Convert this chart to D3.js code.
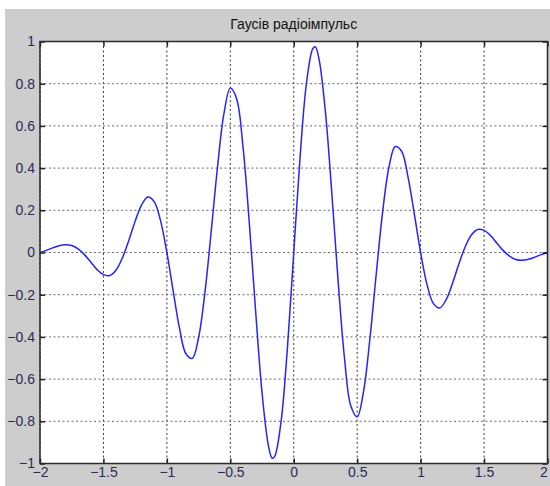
<!DOCTYPE html>
<html>
<head>
<meta charset="utf-8">
<script src="https://cdn.jsdelivr.net/npm/d3@7/dist/d3.min.js"></script>
<style>
	body{margin:0;background:#fff;}
	text{font-family:'Liberation Sans',Arial,sans-serif;}
</style>
</head>
<body>
<svg id="chart" width="550" height="486"></svg>
<script>
var title = 'Гаусів радіоімпульс';
var xTicks = [-2,-1.5,-1,-0.5,0,0.5,1,1.5,2];
var yTicks = [-1,-0.8,-0.6,-0.4,-0.2,0,0.2,0.4,0.6,0.8,1];

// samples, step 0.05 (plus the two main peaks)
var tValues = [
	-2,-1.95,-1.9,-1.85,-1.8,-1.75,-1.7,-1.65,-1.6,-1.55,
	-1.5,-1.45,-1.4,-1.35,-1.3,-1.25,-1.2,-1.15,-1.1,-1.05,
	-1,-0.95,-0.9,-0.85,-0.8,-0.75,-0.7,-0.65,-0.6,-0.55,
	-0.5,-0.45,-0.4,-0.35,-0.3,-0.25,-0.2,-0.17,-0.15,-0.1,-0.05,
	0,0.05,0.1,0.15,0.17,0.2,0.25,0.3,0.35,0.4,0.45,
	0.5,0.55,0.6,0.65,0.7,0.75,0.8,0.85,0.9,0.95,
	1,1.05,1.1,1.15,1.2,1.25,1.3,1.35,1.4,1.45,
	1.5,1.55,1.6,1.65,1.7,1.75,1.8,1.85,1.9,1.95,
	2
];
var yValues = [
	0,0.010,0.022,0.032,0.037,0.033,0.017,-0.010,-0.045,-0.081,
	-0.105,-0.109,-0.083,-0.025,0.057,0.148,0.225,0.263,0.241,0.151,
	0,-0.184,-0.360,-0.480,-0.502,-0.403,-0.189,0.103,0.410,0.659,
	0.779,0.728,0.501,0.138,-0.282,-0.664,-0.914,-0.975,-0.966,-0.801,-0.453,
	0,0.453,0.801,0.966,0.975,0.914,0.664,0.282,-0.138,-0.501,-0.728,
	-0.779,-0.659,-0.410,-0.103,0.189,0.403,0.502,0.480,0.360,0.184,
	0,-0.151,-0.241,-0.263,-0.225,-0.148,-0.057,0.025,0.083,0.109,
	0.105,0.081,0.045,0.010,-0.017,-0.033,-0.037,-0.032,-0.022,-0.010,
	0
];

var svg = d3.select('#chart');
var box = {left:40, right:547.5, top:41.5, bottom:463.5};

var x = d3.scaleLinear().domain([-2,2]).range([box.left, box.right]);
var y = d3.scaleLinear().domain([-1,1]).range([box.bottom, box.top]);

//figure background
svg.append('rect')
	.attr('x',5).attr('y',9)
	.attr('width',545).attr('height',477)
	.attr('fill','#cdcdcd');

//axes background
svg.append('rect')
	.attr('x',box.left).attr('y',box.top)
	.attr('width',box.right-box.left).attr('height',box.bottom-box.top)
	.attr('fill','#fff');

//grid
var grid = svg.append('g').attr('stroke','#3a3a3a').attr('stroke-width',1).attr('stroke-dasharray','2,2.5');
grid.selectAll('.gx').data(xTicks).enter().append('line')
	.attr('x1',function(d){return x(d);}).attr('x2',function(d){return x(d);})
	.attr('y1',box.top).attr('y2',box.bottom);
grid.selectAll('.gy').data(yTicks).enter().append('line')
	.attr('y1',function(d){return y(d);}).attr('y2',function(d){return y(d);})
	.attr('x1',box.left).attr('x2',box.right)
	.attr('stroke','#6a6a6a');

//curve
var line = d3.line()
	.x(function(d,i){return x(tValues[i]);})
	.y(function(d){return y(d);})
	.curve(d3.curveCatmullRom.alpha(0.5));
svg.append('path')
	.datum(yValues)
	.attr('d',line)
	.attr('fill','none')
	.attr('stroke','#2424ff')
	.attr('stroke-width',1.5);

//axes, ticks pointing inward
function styleAxis(g){
	g.select('.domain').remove();
	g.selectAll('.tick line').attr('stroke','#222').attr('stroke-width',1.5);
	g.selectAll('.tick text').attr('fill','#2b2b55').style('font-size','14px');
}
var xAxisG = svg.append('g')
	.attr('transform','translate(0,'+box.bottom+')')
	.call(d3.axisBottom(x).tickValues(xTicks).tickFormat(d3.format('')).tickSizeInner(-5).tickSizeOuter(0).tickPadding(4))
	.call(styleAxis);
// keep the last label inside the window
xAxisG.selectAll('.tick text').filter(function(d){return d===2;}).attr('dx','-0.3em');
svg.append('g')
	.attr('transform','translate(0,'+box.top+')')
	.call(d3.axisTop(x).tickValues(xTicks).tickFormat('').tickSizeInner(-5).tickSizeOuter(0))
	.call(styleAxis);
svg.append('g')
	.attr('transform','translate('+box.left+',0)')
	.call(d3.axisLeft(y).tickValues(yTicks).tickFormat(d3.format('')).tickSizeInner(-5).tickSizeOuter(0).tickPadding(5))
	.call(styleAxis);
svg.append('g')
	.attr('transform','translate('+box.right+',0)')
	.call(d3.axisRight(y).tickValues(yTicks).tickFormat('').tickSizeInner(-5).tickSizeOuter(0))
	.call(styleAxis);
svg.selectAll('.tick text').attr('font-family',null);

//axes border
svg.append('rect')
	.attr('x',box.left).attr('y',box.top)
	.attr('width',box.right-box.left).attr('height',box.bottom-box.top)
	.attr('fill','none')
	.attr('stroke','#2a2a2a')
	.attr('stroke-width',1.5);

//title
svg.append('text')
	.attr('x',(box.left+box.right)/2)
	.attr('y',29)
	.attr('text-anchor','middle')
	.attr('fill','#111')
	.style('font-size','14px')
	.text(title);
</script>
</body>
</html>
